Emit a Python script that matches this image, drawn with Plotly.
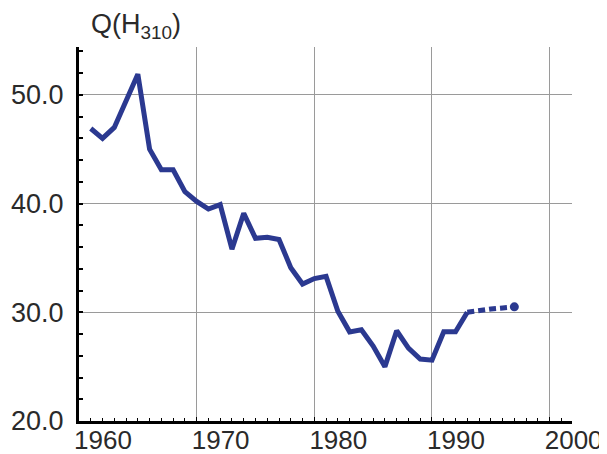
import plotly.graph_objects as go

years = list(range(1961, 1994))
values = [46.9, 46.0, 47.0, 49.4, 51.9, 45.0, 43.1, 43.1, 41.1, 40.2,
          39.5, 39.9, 35.8, 39.1, 36.8, 36.9, 36.7, 34.1, 32.6, 33.1,
          33.3, 30.1, 28.2, 28.4, 26.9, 25.0, 28.3, 26.7, 25.7, 25.6,
          28.2, 28.2, 30.0]
proj_years = [1993, 1994, 1995, 1996, 1997]
proj_values = [30.0, 30.2, 30.3, 30.4, 30.5]
y_ticks = [20, 30, 40, 50]
y_tick_labels = ["20.0", "30.0", "40.0", "50.0"]
x_ticks = [1960, 1970, 1980, 1990, 2000]
x_tick_labels = ["1960", "1970", "1980", "1990", "2000"]

LINE = "#2b3990"
FONT = "Liberation Sans, Arial, sans-serif"
TXT = "#2a2a2a"

OFF = 8  # default page body margin
W, H = 607 - OFF, 454 - OFF
L, R, T, B = 79 - OFF, 35, 47 - OFF, 33
PW, PH = W - L - R, H - T - B

fig = go.Figure()
fig.add_trace(go.Scatter(x=years, y=values, mode="lines",
                         line=dict(color=LINE, width=5), showlegend=False))
fig.add_trace(go.Scatter(x=proj_years, y=proj_values, mode="lines",
                         line=dict(color=LINE, width=5, dash="7px,4px"),
                         showlegend=False))
fig.add_trace(go.Scatter(x=proj_years[-1:], y=proj_values[-1:], mode="markers",
                         marker=dict(color=LINE, size=9), showlegend=False))

fig.update_layout(
    width=W, height=H,
    margin=dict(l=L, r=R, t=T, b=B, autoexpand=False),
    paper_bgcolor="white", plot_bgcolor="white",
    font=dict(family=FONT, color=TXT, size=26),
    annotations=[dict(text="Q(H<sub>310</sub>)", xref="paper", yref="paper",
                      x=(89 - 79) / PW, y=1 + 40 / PH,
                      showarrow=False, xanchor="left", yanchor="top",
                      font=dict(size=27, color=TXT, family=FONT))],
)

fig.update_xaxes(
    range=[1960, 2001.9], tickvals=x_ticks, ticktext=x_tick_labels,
    showline=True, linecolor="black", linewidth=2.5,
    showgrid=True, gridcolor="#9a9a9a", gridwidth=1,
    ticks="inside", ticklen=4, tickcolor="black", tickwidth=1,
    minor=dict(dtick=1, tick0=1960, ticks="inside", ticklen=3, tickcolor="black",
               tickwidth=1, showgrid=False),
    ticklabelshift=24, ticklabelstandoff=-6, zeroline=False, automargin=False,
    tickfont=dict(size=26, color=TXT),
)
fig.update_yaxes(
    range=[20, 54.4], tickvals=y_ticks, ticktext=y_tick_labels,
    showline=True, linecolor="black", linewidth=3,
    showgrid=True, gridcolor="#9a9a9a", gridwidth=1,
    ticks="inside", ticklen=4, tickcolor="black", tickwidth=1,
    minor=dict(dtick=2, tick0=20, ticks="inside", ticklen=4, tickcolor="black",
               tickwidth=1.5, showgrid=False),
    ticklabelstandoff=7, zeroline=False, automargin=False,
    tickfont=dict(size=27, color=TXT),
)

fig.write_html("out.html")
